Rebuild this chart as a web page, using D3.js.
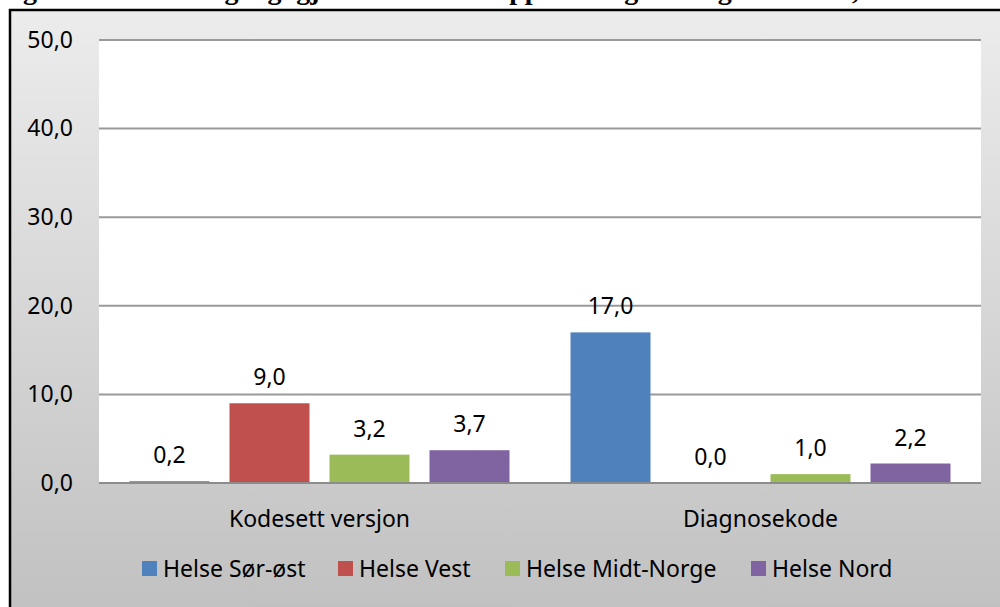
<!DOCTYPE html>
<html>
<head>
<meta charset="utf-8" />
<title>Kodesett versjon / Diagnosekode</title>
<script src="https://d3js.org/d3.v7.min.js"></script>
<style>
  body { margin: 0; background: #fff; overflow: hidden; }
  text { font-family: "Noto Sans", "Open Sans", sans-serif; fill: #000; }
</style>
</head>
<body>
<div id="chart"></div>
<script>
// data
var categories = ["Kodesett versjon", "Diagnosekode"];
var series = ["Helse Sør-øst", "Helse Vest", "Helse Midt-Norge", "Helse Nord"];
var colors = ["#4f81bd", "#c0504d", "#9bbb59", "#8064a2"];
var values = [
  [0.2, 9.0, 3.2, 3.7],   // Kodesett versjon
  [17.0, 0.0, 1.0, 2.2]   // Diagnosekode
];
var yTicks = [0, 10, 20, 30, 40, 50];
var title = "Figur 9: Terminologi og igjen kodeverk: rapportering av diagnosekoder, 2012";

var W = 1000, H = 607;
var plot = {left: 99, right: 981, top: 40, bottom: 483};
var fs = "23px";

var fmt = function(v) { return d3.format(".1f")(v).replace(".", ","); };

var svg = d3.select("#chart").append("svg")
  .attr("width", W)
  .attr("height", H);

// background gradient of the chart area
var defs = svg.append("defs");
var grad = defs.append("linearGradient")
  .attr("id", "bg")
  .attr("x1", 0).attr("y1", 0).attr("x2", 0).attr("y2", 1);
grad.append("stop").attr("offset", "0%").attr("stop-color", "#ececec");
grad.append("stop").attr("offset", "100%").attr("stop-color", "#bfbfbf");

// cropped title above the chart, only the descenders show
svg.append("text")
  .attr("x", -2)
  .attr("y", -1.5)
  .style("font-family", "'Liberation Serif', serif")
  .style("font-weight", "bold")
  .style("font-size", "28px")
  .text(title);

// chart area (runs off right and bottom edge)
svg.append("rect")
  .attr("x", 10)
  .attr("y", 10)
  .attr("width", W + 20)
  .attr("height", H + 20)
  .style("fill", "url(#bg)")
  .style("stroke", "#000")
  .style("stroke-width", 2.5);

// plot area
svg.append("rect")
  .attr("x", plot.left)
  .attr("y", plot.top)
  .attr("width", plot.right - plot.left)
  .attr("height", plot.bottom - plot.top)
  .style("fill", "#fff");

var x0 = d3.scaleBand()
  .domain(categories)
  .range([plot.left, plot.right]);

var x1 = d3.scaleBand()
  .domain(series)
  .range([30.5, x0.bandwidth() - 30.5])
  .paddingInner(0.2);

var y = d3.scaleLinear()
  .domain([0, 50])
  .range([plot.bottom, plot.top]);

// gridlines
svg.append("g")
  .selectAll("line")
  .data(yTicks)
  .enter().append("line")
    .attr("x1", plot.left)
    .attr("x2", plot.right)
    .attr("y1", function(d) { return y(d); })
    .attr("y2", function(d) { return y(d); })
    .style("stroke", "#9a9a9a")
    .style("stroke-width", 2);

// y axis labels
var yAxis = d3.axisLeft(y).tickValues(yTicks).tickSize(0).tickPadding(26).tickFormat(fmt);
var ya = svg.append("g")
  .attr("transform", "translate(" + plot.left + ",0)")
  .call(yAxis);
ya.select(".domain").remove();
ya.selectAll("text")
  .style("font-family", "'Noto Sans', sans-serif")
  .style("font-size", fs);

// bars
var groups = svg.append("g")
  .selectAll("g")
  .data(categories)
  .enter().append("g")
    .attr("transform", function(d) { return "translate(" + x0(d) + ",0)"; });

groups.selectAll("rect")
  .data(function(d, i) { return values[i].map(function(v, j) { return {s: series[j], v: v, c: colors[j]}; }); })
  .enter().append("rect")
    .attr("x", function(d) { return x1(d.s); })
    .attr("y", function(d) { return y(d.v); })
    .attr("width", x1.bandwidth())
    .attr("height", function(d) { return y(0) - y(d.v); })
    .style("fill", function(d) { return d.c; });

groups.selectAll("text")
  .data(function(d, i) { return values[i].map(function(v, j) { return {s: series[j], v: v}; }); })
  .enter().append("text")
    .attr("x", function(d) { return x1(d.s) + x1.bandwidth() / 2; })
    .attr("y", function(d) { return y(d.v) - 18; })
    .attr("text-anchor", "middle")
    .style("font-size", fs)
    .text(function(d) { return fmt(d.v); });

// x axis line
svg.append("line")
  .attr("x1", plot.left)
  .attr("x2", plot.right)
  .attr("y1", y(0))
  .attr("y2", y(0))
  .style("stroke", "#8c8c8c")
  .style("stroke-width", 2);

// category labels
svg.append("g")
  .selectAll("text")
  .data(categories)
  .enter().append("text")
    .attr("x", function(d) { return x0(d) + x0.bandwidth() / 2; })
    .attr("y", 527)
    .attr("text-anchor", "middle")
    .style("font-size", fs)
    .text(function(d) { return d; });

// legend
var legendX = [142, 338, 505, 751];
var legend = svg.append("g")
  .selectAll("g")
  .data(series)
  .enter().append("g")
    .attr("transform", function(d, i) { return "translate(" + legendX[i] + ",561)"; });

legend.append("rect")
  .attr("width", 15)
  .attr("height", 15)
  .style("fill", function(d, i) { return colors[i]; });

legend.append("text")
  .attr("x", 21)
  .attr("y", 16)
  .style("font-size", fs)
  .text(function(d) { return d; });
</script>
</body>
</html>
